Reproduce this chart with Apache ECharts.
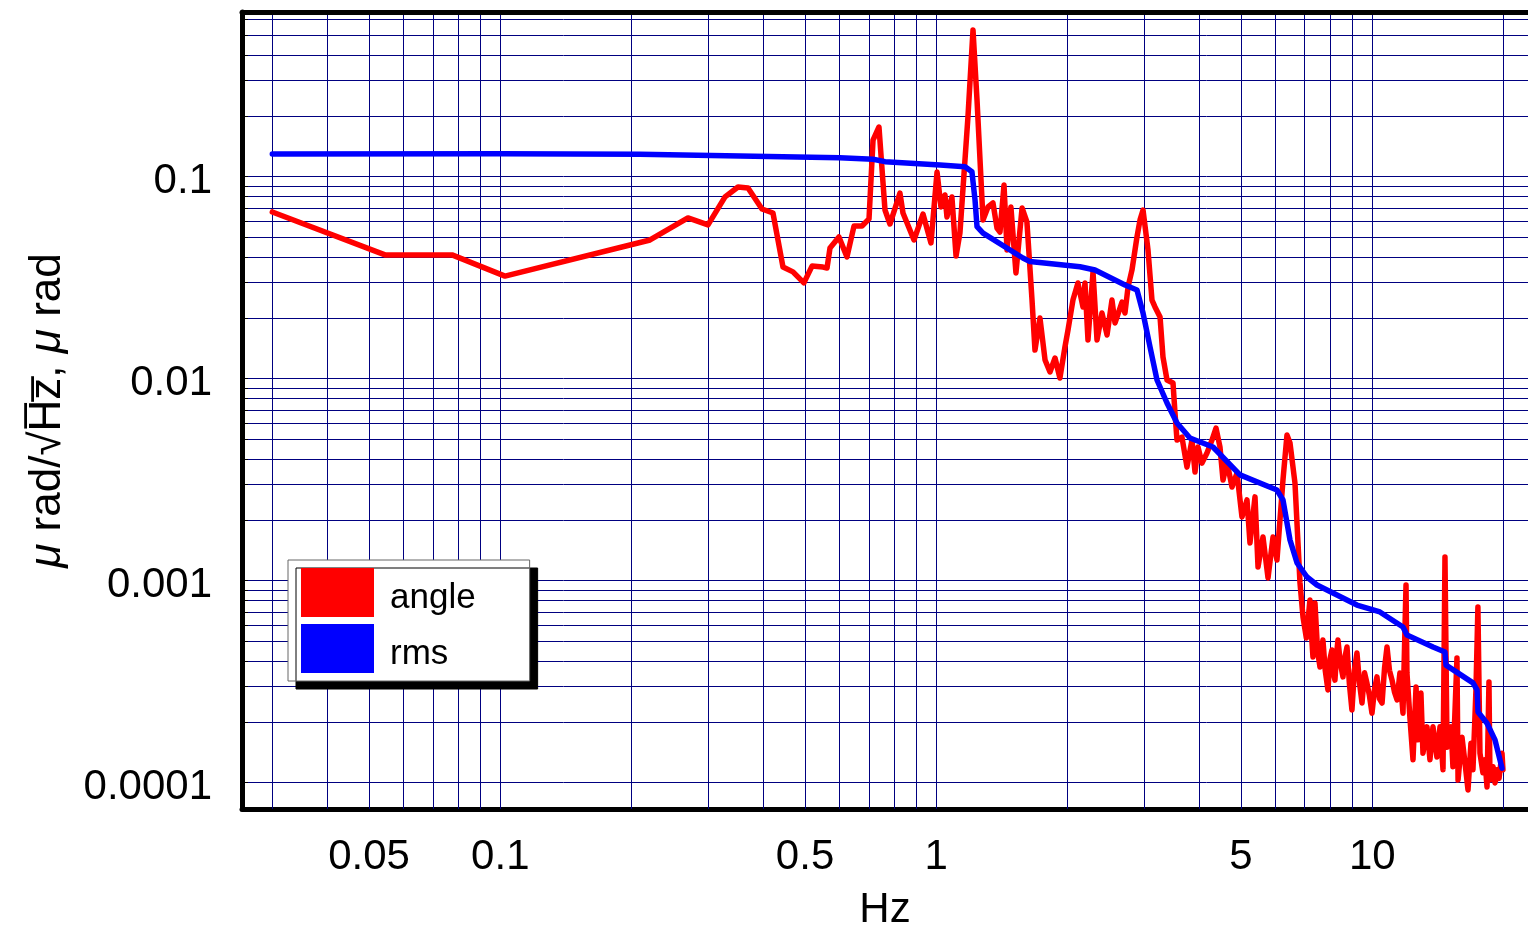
<!DOCTYPE html>
<html>
<head>
<meta charset="utf-8">
<title>angle / rms spectrum</title>
<script src="https://cdn.jsdelivr.net/npm/echarts@6/dist/echarts.min.js"></script>
<style>
  html, body { margin: 0; padding: 0; background: #ffffff; }
  #chart { width: 1528px; height: 932px; }
</style>
</head>
<body>
<div id="chart"></div>
<script>
// Angle spectral density: [frequency Hz, amplitude]
const angle = [
  [0.030, 0.0669], [0.0544, 0.0410], [0.0775, 0.0410], [0.1025, 0.0322], [0.2205, 0.0486],
  [0.2694, 0.0625], [0.2995, 0.0577], [0.3277, 0.0794], [0.3509, 0.0889], [0.3700, 0.0879],
  [0.3983, 0.0692], [0.4221, 0.0661], [0.4450, 0.0357], [0.4691, 0.0338], [0.4970, 0.0298],
  [0.5188, 0.0361], [0.5497, 0.0357], [0.5615, 0.0353], [0.5705, 0.0444], [0.5980, 0.0503],
  [0.6239, 0.0401], [0.6476, 0.0570], [0.6755, 0.0570], [0.7010, 0.0618], [0.7160, 0.1519],
  [0.7388, 0.1762], [0.7627, 0.0684], [0.7829, 0.0583], [0.8254, 0.0830], [0.8387, 0.0661],
  [0.8889, 0.0486], [0.9322, 0.0653], [0.9723, 0.0470], [1.004, 0.1055], [1.025, 0.0708],
  [1.047, 0.0812], [1.058, 0.0632], [1.086, 0.0794], [1.110, 0.0405], [1.133, 0.0526],
  [1.182, 0.1975], [1.214, 0.5323], [1.240, 0.2397], [1.280, 0.0611], [1.314, 0.0708],
  [1.349, 0.0741], [1.378, 0.0557], [1.400, 0.0532], [1.430, 0.0910], [1.453, 0.0434],
  [1.483, 0.0708], [1.523, 0.0334], [1.573, 0.0700], [1.614, 0.0597], [1.658, 0.0245],
  [1.684, 0.01387], [1.729, 0.01998], [1.776, 0.01238], [1.823, 0.01080], [1.872, 0.01266],
  [1.921, 0.01008], [1.973, 0.01435], [2.005, 0.01742], [2.058, 0.0245], [2.113, 0.02977],
  [2.170, 0.02265], [2.193, 0.0298], [2.228, 0.01555], [2.288, 0.03375], [2.337, 0.01555],
  [2.399, 0.02114], [2.464, 0.01646], [2.529, 0.0245], [2.570, 0.01887], [2.667, 0.02396],
  [2.709, 0.02114], [2.753, 0.02844], [2.811, 0.03453], [2.886, 0.0503], [2.933, 0.0611],
  [2.980, 0.0684], [3.059, 0.0434], [3.124, 0.0245], [3.174, 0.02265], [3.260, 0.0202],
  [3.311, 0.0128], [3.382, 0.00985], [3.491, 0.00952], [3.528, 0.00676], [3.565, 0.00497],
  [3.660, 0.00514], [3.758, 0.00365], [3.859, 0.00497], [3.921, 0.00345], [3.983, 0.00459],
  [4.068, 0.00382], [4.177, 0.00429], [4.289, 0.00497], [4.381, 0.0057], [4.474, 0.00459],
  [4.546, 0.00315], [4.643, 0.00387], [4.767, 0.00291], [4.894, 0.00341], [5.025, 0.002067],
  [5.160, 0.002511], [5.242, 0.001537], [5.383, 0.0026], [5.469, 0.00117], [5.615, 0.001646],
  [5.766, 0.001031], [5.920, 0.001646], [6.045, 0.001266], [6.240, 0.00315], [6.373, 0.00526],
  [6.476, 0.0048], [6.648, 0.003046], [6.755, 0.001537], [6.827, 0.000974], [6.936, 0.000661],
  [7.06, 0.00052], [7.195, 0.000803], [7.25, 0.00055], [7.311, 0.000419], [7.35, 0.00062],
  [7.389, 0.000776], [7.49, 0.00045], [7.587, 0.000374], [7.705, 0.000509], [7.80, 0.00036],
  [7.912, 0.000288], [8.00, 0.00041], [8.081, 0.000454], [8.15, 0.00035], [8.211, 0.000322],
  [8.28, 0.00043], [8.342, 0.000509], [8.45, 0.00039], [8.567, 0.000334], [8.66, 0.00042],
  [8.750, 0.00047], [8.86, 0.00031], [8.982, 0.000229], [9.10, 0.00036], [9.223, 0.000439],
  [9.35, 0.00031], [9.472, 0.000248], [9.60, 0.00035], [9.723, 0.000311], [9.85, 0.00027],
  [9.984, 0.000221], [10.12, 0.00029], [10.25, 0.000334], [10.39, 0.00026], [10.53, 0.000248],
  [10.67, 0.00037], [10.81, 0.00047], [10.95, 0.00036], [11.10, 0.000322], [11.25, 0.00028],
  [11.40, 0.000257], [11.57, 0.000349], [11.76, 0.000221], [11.95, 0.000952], [12.01, 0.000349],
  [12.21, 0.000204], [12.40, 0.00013], [12.60, 0.000298], [12.73, 0.000163], [12.93, 0.000278],
  [13.07, 0.00014], [13.35, 0.000189], [13.56, 0.00013], [13.78, 0.000189], [14.07, 0.000134],
  [14.30, 0.000189], [14.53, 0.000116], [14.68, 0.00131], [14.84, 0.00015], [15.16, 0.000189],
  [15.31, 0.00012], [15.64, 0.000414], [15.73, 0.000103], [16.06, 0.000168], [16.32, 0.000125],
  [16.58, 0.000092], [16.84, 0.000157], [17.02, 0.000116], [17.29, 0.000288], [17.47, 0.000741],
  [17.66, 0.00014], [17.94, 0.000112], [18.13, 0.00013], [18.33, 0.0000952], [18.52, 0.000315],
  [18.62, 0.000103], [18.92, 0.00012], [19.12, 0.0000997], [19.32, 0.000116], [19.53, 0.000105],
  [19.84, 0.00014], [19.94, 0.000116]
];

// Cumulative rms: [frequency Hz, amplitude]
const rms = [
  [0.030, 0.1296], [0.100, 0.1300], [0.209, 0.1290], [0.355, 0.1266], [0.601, 0.1242],
  [0.716, 0.1220], [0.763, 0.1187], [1.020, 0.1143], [1.164, 0.1121], [1.207, 0.1059],
  [1.227, 0.0767], [1.240, 0.0566], [1.280, 0.0526], [1.580, 0.0396], [1.640, 0.0380],
  [2.136, 0.0358], [2.312, 0.0345], [2.709, 0.0291], [2.886, 0.02749], [2.980, 0.02114],
  [3.092, 0.01435], [3.208, 0.00985], [3.382, 0.00758], [3.565, 0.00604], [3.818, 0.00509],
  [4.312, 0.00459], [4.972, 0.00334], [6.045, 0.00281], [6.240, 0.00251], [6.476, 0.00159],
  [6.722, 0.001224], [7.084, 0.001043], [7.468, 0.000952], [8.126, 0.000869], [9.223, 0.000758],
  [10.41, 0.000700], [11.76, 0.000590], [12.01, 0.000538], [13.78, 0.000470], [14.68, 0.000444],
  [14.76, 0.000382], [17.02, 0.000312], [17.39, 0.000288], [17.48, 0.000224], [18.33, 0.000197],
  [19.12, 0.000163], [19.84, 0.000118]
];

// Grid lines (1..9 per decade) and labelled ticks
const xGridValues = [0.03, 0.04, 0.05, 0.06, 0.07, 0.08, 0.09,
  0.1, 0.2, 0.3, 0.4, 0.5, 0.6, 0.7, 0.8, 0.9,
  1, 2, 3, 4, 5, 6, 7, 8, 9, 10, 20];
const yGridValues = [0.0001, 0.0002, 0.0003, 0.0004, 0.0005, 0.0006, 0.0007, 0.0008, 0.0009,
  0.001, 0.002, 0.003, 0.004, 0.005, 0.006, 0.007, 0.008, 0.009,
  0.01, 0.02, 0.03, 0.04, 0.05, 0.06, 0.07, 0.08, 0.09,
  0.1, 0.2, 0.3, 0.4, 0.5, 0.6];
const xTickLabels = [0.05, 0.1, 0.5, 1, 5, 10];
const yTickLabels = [0.0001, 0.001, 0.01, 0.1];

const FONT = '"Liberation Sans", Arial, Helvetica, sans-serif';
const GRID_COLOR = '#000080';
const X_MIN = 0.02556, X_MAX = 22.76;
const Y_MIN = 0.0000741, Y_MAX = 0.6536;

const fmt = v => parseFloat(Number(v).toPrecision(4)).toString();

const chart = echarts.init(document.getElementById('chart'), null, { renderer: 'canvas' });

chart.setOption({
  animation: false,
  backgroundColor: '#ffffff',
  grid: { left: 242, top: 12, right: 0, height: 797, containLabel: false, outerBoundsMode: 'none' },
  legend: {
    data: ['angle', 'rms'],
    orient: 'vertical',
    left: 288,
    top: 560,
    icon: 'rect',
    itemWidth: 73,
    itemHeight: 49,
    itemGap: 7,
    padding: [8, 54, 8, 13],
    backgroundColor: '#ffffff',
    borderColor: '#666666',
    borderWidth: 1,
    borderRadius: 0,
    shadowColor: '#000000',
    shadowBlur: 0,
    shadowOffsetX: 8,
    shadowOffsetY: 8,
    selectedMode: false,
    formatter: name => '{t|' + name + '}',
    textStyle: {
      fontSize: 35, color: '#000', fontFamily: FONT,
      rich: { t: { fontSize: 35, color: '#000', fontFamily: FONT, padding: [11, 0, 0, 11] } }
    }
  },
  xAxis: [
    {
      type: 'log',
      min: X_MIN,
      max: X_MAX,
      position: 'bottom',
      name: 'Hz',
      nameLocation: 'middle',
      nameGap: 80,
      nameTextStyle: { fontSize: 42, color: '#000', fontFamily: FONT },
      axisLine: { show: true, onZero: false, lineStyle: { color: '#000', width: 5 } },
      axisTick: { show: true, inside: true, length: 6, customValues: xGridValues,
                  lineStyle: { color: GRID_COLOR, width: 1 } },
      axisLabel: { show: true, customValues: xTickLabels, margin: 27, formatter: fmt,
                   fontSize: 42, color: '#000', fontFamily: FONT },
      splitLine: { show: true, lineStyle: { color: GRID_COLOR, width: 1 } },
      minorTick: { show: false },
      minorSplitLine: { show: false }
    },
    {
      type: 'log',
      min: X_MIN,
      max: X_MAX,
      position: 'top',
      axisLine: { show: true, onZero: false, lineStyle: { color: '#000', width: 5 } },
      axisTick: { show: false },
      axisLabel: { show: false },
      splitLine: { show: false }
    }
  ],
  yAxis: {
    type: 'log',
    min: Y_MIN,
    max: Y_MAX,
    position: 'left',
    name: '{i|\u03bc} rad/\u221aH\u0305z\u0305, {i|\u03bc} rad',
    nameLocation: 'middle',
    nameRotate: 90,
    nameGap: 172,
    nameTextStyle: {
      fontSize: 44, color: '#000', fontFamily: FONT,
      rich: { i: { fontSize: 44, fontStyle: 'italic', color: '#000', fontFamily: FONT } }
    },
    axisLine: { show: true, onZero: false, lineStyle: { color: '#000', width: 5 } },
    axisTick: { show: true, inside: true, length: 6, customValues: yGridValues,
                lineStyle: { color: '#000', width: 1 } },
    axisLabel: {
      show: true, customValues: yTickLabels, margin: 30,
      formatter: v => '{v|' + fmt(v) + '}',
      fontSize: 42, color: '#000', fontFamily: FONT,
      rich: { v: { fontSize: 42, color: '#000', fontFamily: FONT, padding: [9, 0, 0, 0] } }
    },
    splitLine: { show: true, lineStyle: { color: GRID_COLOR, width: 1 } },
    minorTick: { show: false },
    minorSplitLine: { show: false }
  },
  series: [
    {
      name: 'angle',
      type: 'line',
      data: angle,
      showSymbol: false,
      symbol: 'none',
      z: 3,
      itemStyle: { color: '#ff0000' },
      lineStyle: { color: '#ff0000', width: 5.5, join: 'round', cap: 'round' }
    },
    {
      name: 'rms',
      type: 'line',
      data: rms,
      showSymbol: false,
      symbol: 'none',
      z: 4,
      itemStyle: { color: '#0000ff' },
      lineStyle: { color: '#0000ff', width: 5.5, join: 'round', cap: 'round' }
    }
  ]
});
</script>
</body>
</html>
